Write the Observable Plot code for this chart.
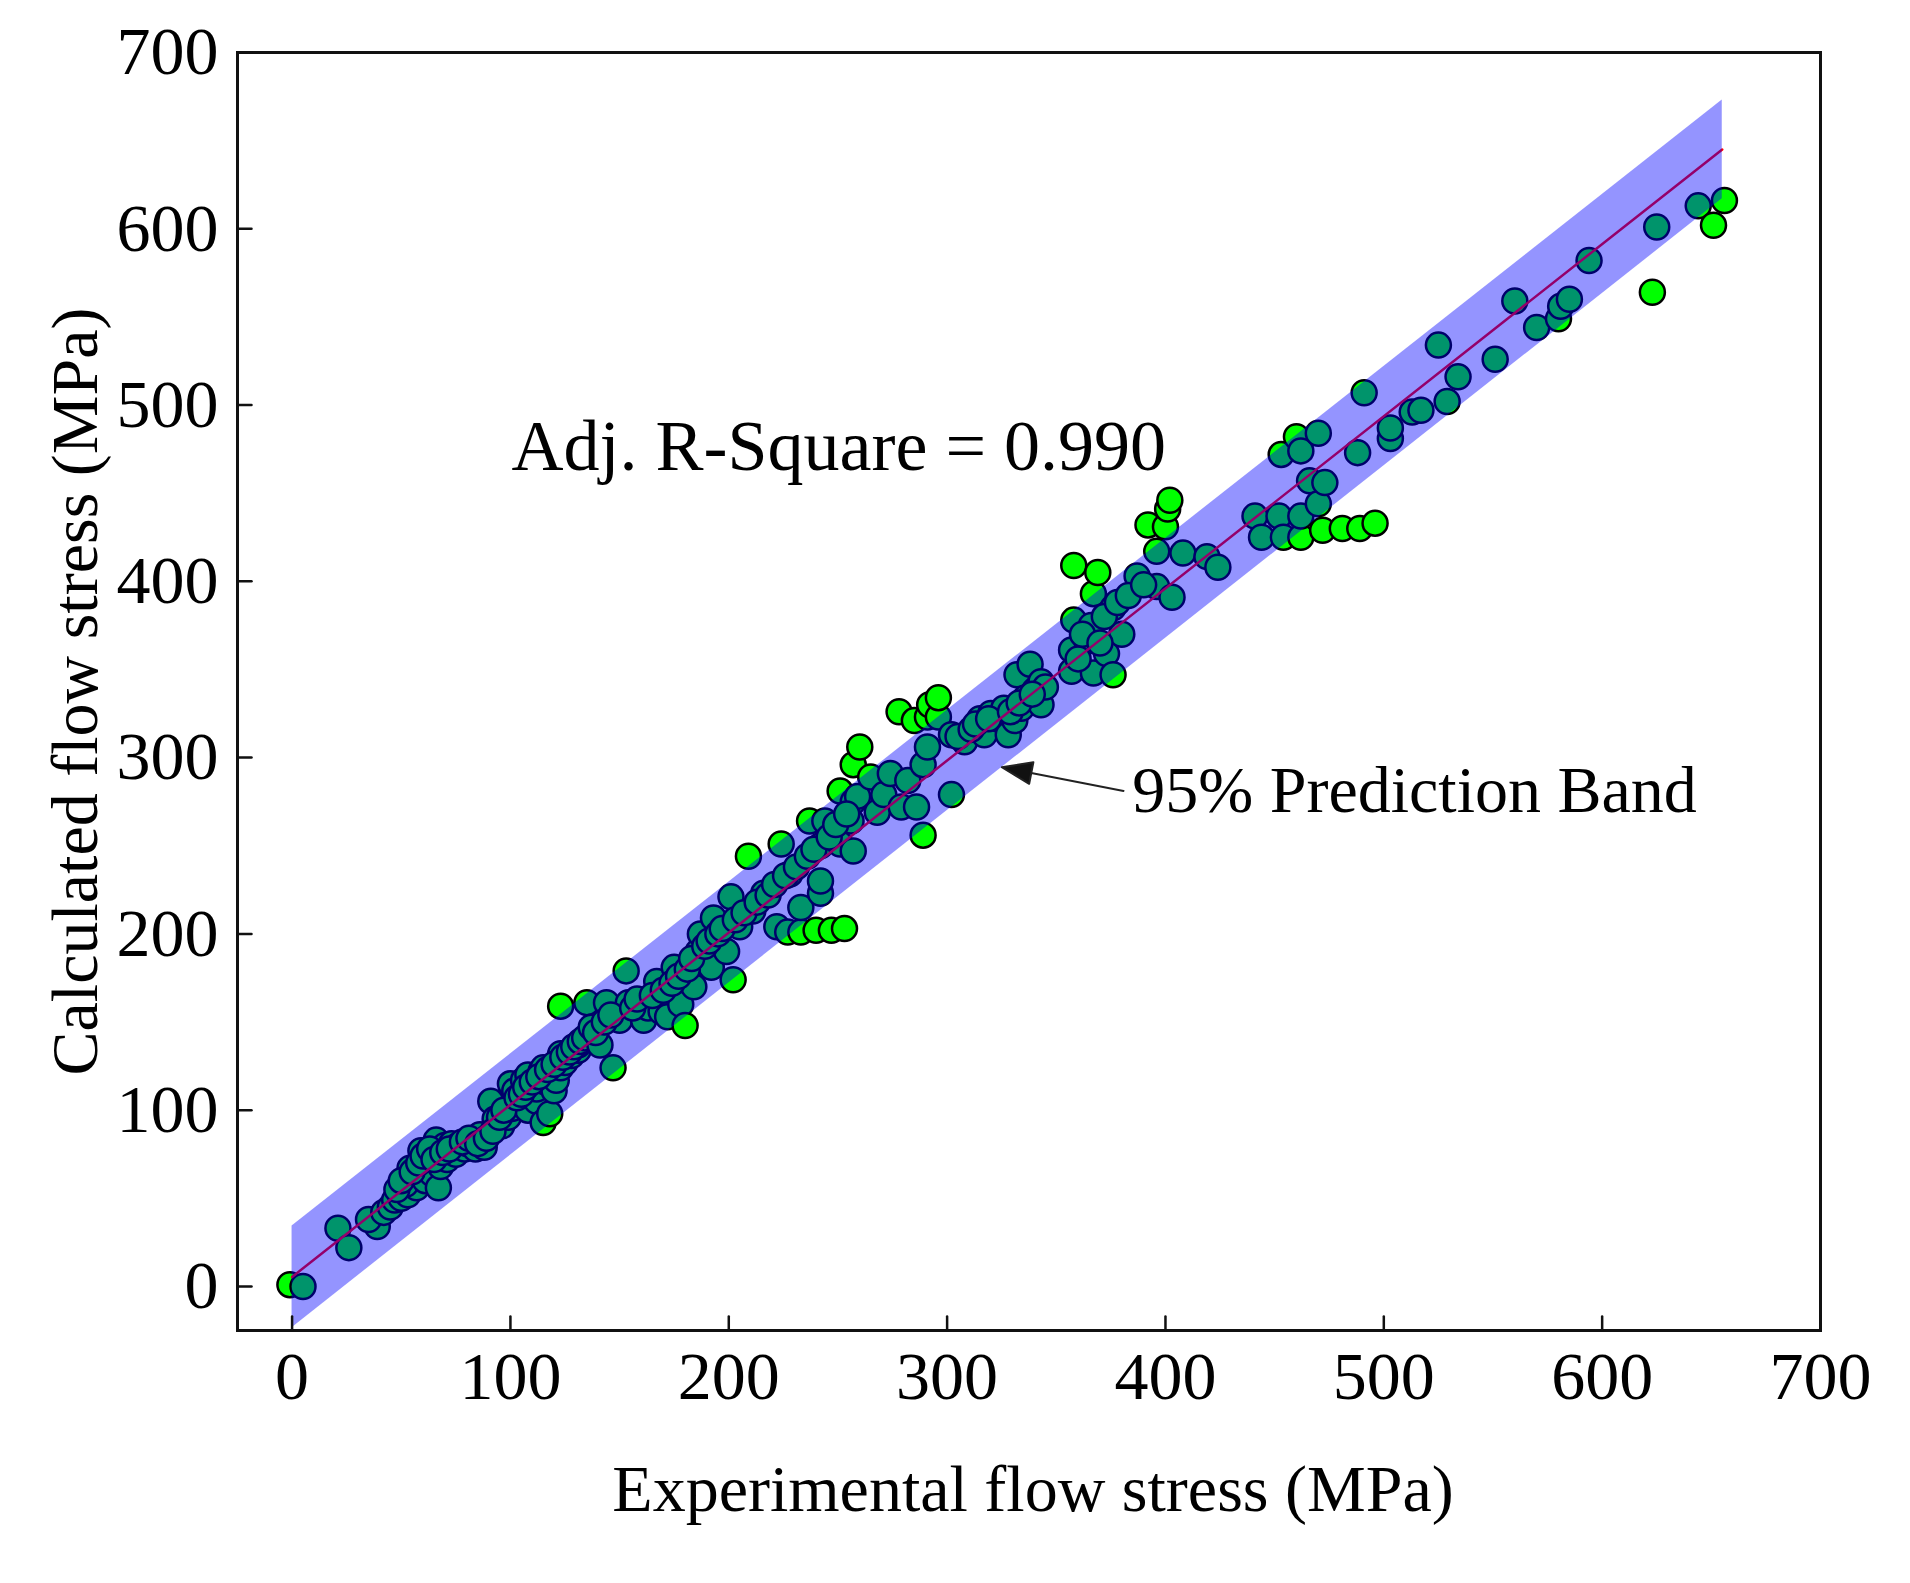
<!DOCTYPE html>
<html>
<head>
<meta charset="utf-8">
<script src="https://cdn.jsdelivr.net/npm/d3@7"></script>
<script src="https://cdn.jsdelivr.net/npm/@observablehq/plot@0.6"></script>
<style>
  body { margin: 0; background: #fff; }
  #chart svg { display: block; }
</style>
</head>
<body>
<div id="chart"></div>
<script>
// [experimental, calculated] flow stress in MPa
const groupLow = [
  [-1,1],[5,0],[21,33],[26,22],[39,34],[35,38],[42,42],[45,45],[47,49],[50,50],[53,52],[54,67],
  [56,62],[57,56],[59,77],[52,58],[61,60],[62,70],[64,64],[66,83],[67,56],[68,68],[70,80],[71,72],
  [73,81],[75,75],[76,80],[79,78],[80,81],[83,82],[84,78],[86,86],[88,79],[91,105],[93,95],[96,91],
  [98,98],[99,96],[100,115],[101,101],[102,111],[104,104],[106,117],[108,100],[108,120],[109,108],
  [112,105],[112,112],[114,122],[115,93],[115,124],[116,116],[118,98],[119,119],[120,111],[121,117],
  [123,124],[123,132],[123,159],[125,127],[128,131],[131,134],[131,137],
  [48,55],[50,60],[55,65],[58,70],[60,74],[63,78],[65,72],[69,76],[72,78],[78,82],[81,84],[85,81],
  [89,84],[92,88],[95,96],[97,100],[103,107],[105,109],[107,113],[110,116],[113,119],[117,123],
  [120,126],[124,130],[127,133],[129,136],[132,139]
]
const groupMid = [
  [134,141],[135,161],[137,147],[141,137],[144,161],[147,124],[150,151],[153,179],[154,161],[161,151],
  [163,158],[167,173],[169,156],[172,153],[175,181],[178,160],[180,148],[184,170],[186,190],[187,200],
  [192,181],[193,209],[199,190],[201,221],[202,174],[205,204],[209,244],[211,213],[216,223],[222,204],
  [224,251],[227,201],[228,234],[233,201],[233,215],[237,264],[240,202],[242,223],[242,230],[242,250],
  [244,264],[247,202],[251,251],[251,281],[253,203],[256,264],[257,247],[257,275],[257,296],[259,278],
  [260,306],
  [139,144],[143,150],[146,154],[156,158],[158,163],[165,165],[170,168],[174,172],[177,176],[181,180],
  [183,186],[189,193],[191,196],[195,200],[197,203],[203,208],[207,212],[213,218],[218,222],[221,228],
  [226,233],[231,238],[236,244],[239,248],[246,255],[249,262],[254,268]
]
const groupUpper = [
  [265,289],[268,269],[271,279],[274,291],[278,326],[279,272],[282,287],[285,321],[286,272],[289,256],
  [289,296],[291,306],[291,323],[292,330],[296,323],[296,334],[302,279],[302,313],[308,309],[315,322],
  [317,313],[320,325],[323,322],[326,328],[328,313],[331,321],[332,347],[334,328],[336,334],[338,353],
  [340,338],[343,330],[343,343],[345,340],[357,349],[357,361],[358,378],[358,409],[364,366],[366,375],
  [367,348],[367,393],[369,405],[373,359],[376,347],[376,385],[380,370],[387,403],[392,432],[396,397],
  [396,417],[400,431],[401,441],[402,446],[403,391],[408,416],[419,414],[424,408],
  [305,312],[311,316],[313,319],[319,322],[329,326],[333,331],[339,336],[360,356],[362,370],[370,365],
  [372,380],[378,388],[383,392],[390,398]
]
const groupTop = [
  [441,437],[444,425],[452,437],[453,472],[454,425],[460,482],[462,425],[462,437],[462,474],[466,457],
  [470,444],[470,484],[472,429],[473,456],[481,430],[488,473],[489,430],[491,507],[496,433],[503,481],
  [503,487],[513,496],[517,497],[525,534],[529,502],[534,516],[551,526],[560,559],[570,544],[580,549],
  [581,556],[585,560],[594,582],[623,564],[625,601],[644,613],[651,602],[656,616]
]

// linear fit and 95% prediction band ends
const fitX = [0, 655]
const fitY = [5.4, 645]
const bandLow = [-23.4, 617]
const bandHigh = [34.3, 673]

const ticks = [0, 100, 200, 300, 400, 500, 600, 700]
const xDomain = [-25, 700]
const yDomain = [-25, 700]

const xTitle = 'Experimental flow stress (MPa)'
const yTitle = 'Calculated flow stress (MPa)'
const r2Label = 'Adj. R-Square = 0.990'
const bandLabel = '95% Prediction Band'

const points = [...groupLow, ...groupMid, ...groupUpper, ...groupTop]
  .map(([x, y]) => ({x, y}))
const fit = fitX.map((x, i) => ({x, y: fitY[i], low: bandLow[i], high: bandHigh[i]}))

const lineShape = {
  draw(context, l) {
    context.moveTo(0, 0)
    context.lineTo(0, -l)
  }
}
const arrowShape = {
  draw(context, l) {
    const head = 30, w = 11
    context.moveTo(0, 0)
    context.lineTo(0, -l + head)
    context.moveTo(0, -l)
    context.lineTo(-w, -l + head)
    context.lineTo(w, -l + head)
    context.closePath()
  }
}

const chart = Plot.plot({
  width: 1910,
  height: 1583,
  marginLeft: 237,
  marginRight: 90,
  marginTop: 52,
  marginBottom: 253,
  style: {fontFamily: '"Liberation Serif", "Times New Roman", serif', color: '#000', background: '#fff'},
  x: {domain: xDomain, label: null},
  y: {domain: yDomain, label: null},
  marks: [
    Plot.dot(points, {x: 'x', y: 'y', r: 12.5, fill: '#00ff00', stroke: '#000', strokeWidth: 2.5}),
    Plot.line(fit, {x: 'x', y: 'y', stroke: '#ff0000', strokeWidth: 2.5}),
    Plot.areaY(fit, {x: 'x', y1: 'low', y2: 'high', fill: '#0000ff', fillOpacity: 0.42}),
    Plot.frame({stroke: '#111', strokeWidth: 3}),
    // inward ticks
    Plot.vector(ticks, {x: d => d, y: yDomain[0], length: 14, rotate: 0, anchor: 'start',
      shape: lineShape, stroke: '#111', strokeWidth: 2.5}),
    Plot.vector(ticks, {x: xDomain[0], y: d => d, length: 14, rotate: 90, anchor: 'start',
      shape: lineShape, stroke: '#111', strokeWidth: 2.5}),
    Plot.axisX(ticks, {tickSize: 0, tickPadding: 20, fontSize: 68, label: null}),
    Plot.axisY(ticks, {tickSize: 0, tickPadding: 19, fontSize: 68, label: null}),
    Plot.text([xTitle], {text: d => d, frameAnchor: 'bottom', dy: 159, dx: 4, fontSize: 66,
      textAnchor: 'middle', lineAnchor: 'middle', fill: '#000'}),
    Plot.text([yTitle], {text: d => d, frameAnchor: 'left', dx: -162, rotate: -90, fontSize: 66,
      textAnchor: 'middle', lineAnchor: 'middle', fill: '#000'}),
    Plot.text([r2Label], {text: d => d, x: 100.5, y: 476.4, textAnchor: 'start', fontSize: 72, lineAnchor: 'middle', fill: '#000'}),
    Plot.text([bandLabel], {text: d => d, x: 384.8, y: 280.9, textAnchor: 'start', fontSize: 66, lineAnchor: 'middle', fill: '#000'}),
    Plot.vector([{x: 380.8, y: 281.1}], {x: 'x', y: 'y', length: 124, rotate: -79, anchor: 'start',
      shape: arrowShape, stroke: '#222', fill: '#111', strokeWidth: 2})
  ]
})

d3.select('#chart').append(() => chart)
</script>
</body>
</html>
